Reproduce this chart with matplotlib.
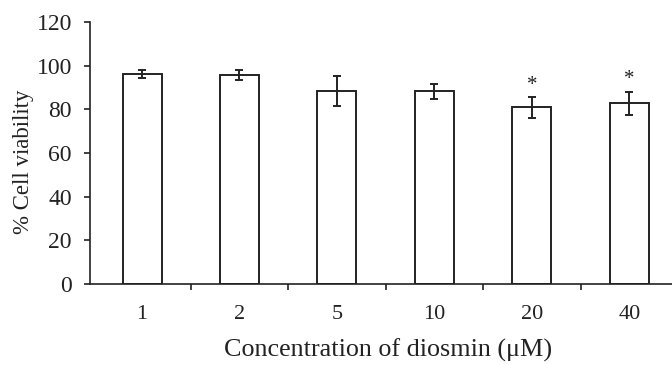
import matplotlib
matplotlib.use("Agg")
import matplotlib.pyplot as plt
import numpy as np

# Cell viability after diosmin treatment
concentrations = ["1", "2", "5", "10", "20", "40"]
viability = [96.3, 95.6, 88.5, 88.2, 80.9, 82.7]
errors = [1.8, 2.3, 6.8, 3.5, 4.8, 5.4]
significant = [False, False, False, False, True, True]

plt.rcParams["font.family"] = ["Liberation Serif", "DejaVu Serif"]
ink = "#222222"

fig = plt.figure(figsize=(6.72, 3.65), dpi=100)
ax = fig.add_axes([90 / 672, 1 - 284 / 365, 588 / 672, 262 / 365])

x = np.arange(len(concentrations))
ax.bar(x, viability, width=0.4, color="white", edgecolor=ink, linewidth=1.4,
       yerr=errors, capsize=3,
       error_kw=dict(ecolor=ink, elinewidth=1.4, capthick=1.4))

for xi, v, e, s in zip(x, viability, errors, significant):
    if s:
        ax.text(xi, v + e + 1.0, "*", ha="center", va="bottom", fontsize=15, color=ink)

ax.set_xlim(-0.534, len(concentrations) - 0.5)
ax.set_ylim(0, 120)
ax.set_yticks(range(0, 121, 20))
ax.set_xticks(x)
ax.set_xticklabels(concentrations)
ax.set_xticks(np.arange(0.5, len(concentrations) - 0.5, 1.0), minor=True)
ax.tick_params(axis="x", which="major", length=0, pad=15, labelsize=16, labelcolor=ink)
ax.tick_params(axis="x", which="minor", length=4, width=1.2, direction="out", color=ink)
ax.tick_params(axis="y", length=4, width=1.2, direction="out", labelsize=17, pad=9,
               color=ink, labelcolor=ink)

for side in ("top", "right"):
    ax.spines[side].set_visible(False)
for side in ("left", "bottom"):
    ax.spines[side].set_linewidth(1.2)
    ax.spines[side].set_color(ink)

ax.set_ylabel("% Cell viability", fontsize=16.5, color=ink, va="center")
ax.yaxis.set_label_coords(-(90 - 24) / 588, (284 - 161.5) / 262)
ax.set_xlabel("Concentration of diosmin (\u03bcM)", fontsize=18.8, color=ink,
              va="center")
ax.xaxis.set_label_coords((388 - 90) / 588, -(350 - 284) / 262)

fig.savefig("out.png", dpi=100)
